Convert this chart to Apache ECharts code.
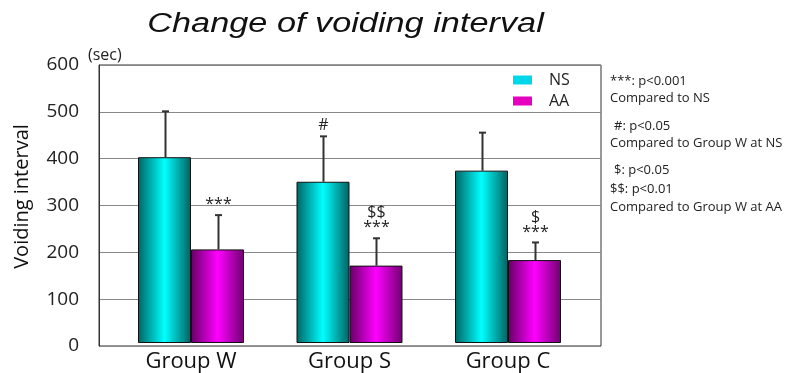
<!DOCTYPE html>
<html><head><meta charset="utf-8">
<script src="https://cdn.jsdelivr.net/npm/echarts@6/dist/echarts.min.js"></script>
<style>html,body{margin:0;padding:0;background:#fff}#c{width:785px;height:373px}</style>
</head><body><div id="c"></div>
<script>
const categories = ['Group W', 'Group S', 'Group C'];
const nsMean = [401, 348, 372];
const nsErr = [99, 98, 82];
const aaMean = [202, 167, 179];
const aaErr = [74, 59, 38];
const nsMarks = ['', '#', ''];
const aaMarks = ['***', '$$\n***', '$\n***'];
const yTicks = [0, 100, 200, 300, 400, 500, 600];
const notes = [
  ['***: p<0.001', 610, 81],
  ['Compared to NS', 610, 98],
  ['#: p<0.05', 614, 126],
  ['Compared to Group W at NS', 610, 143],
  ['$: p<0.05', 614, 170],
  ['$$: p<0.01', 610, 189],
  ['Compared to Group W at AA', 610, 207]
];

const chart = echarts.init(document.getElementById('c'));
const F = '"Open Sans", "Noto Sans", sans-serif';

function grad(dark, bright, dark2) {
  return new echarts.graphic.LinearGradient(0, 0, 1, 0, [
    {offset: 0, color: dark}, {offset: 0.5, color: bright}, {offset: 1, color: dark2}
  ]);
}
const nsFill = grad('#006464', '#00ffff', '#006060');
const aaFill = grad('#650065', '#ff00ff', '#700070');

function errSeries(name, seriesIdx, means, errs, marks) {
  return {
    type: 'custom', name: name + '_err', xAxisIndex: 1, yAxisIndex: 1, z: 5,
    data: means.map((m, i) => [i, m, m + errs[i], marks[i]]),
    renderItem: function (params, api) {
      const i = api.value(0);
      const base = api.coord([i, api.value(1)]);
      const top = api.coord([i, api.value(2)]);
      const bw = 53;
      const off = seriesIdx === 0 ? -bw / 2 : bw / 2;
      const x = Math.round(base[0] + off) + 0.5;
      const mark = api.value(3);
      const children = [
        {type: 'line', shape: {x1: x, y1: base[1], x2: x, y2: top[1]}, style: {stroke: '#333', lineWidth: 2}},
        {type: 'line', shape: {x1: x - 3.5, y1: top[1], x2: x + 3.5, y2: top[1]}, style: {stroke: '#333', lineWidth: 2}}
      ];
      if (mark) {
        children.push({type: 'text', style: {text: mark, x: x, y: top[1] - 3, align: 'center', verticalAlign: 'bottom', font: '16px ' + F, fill: '#222', lineHeight: 15}});
      }
      return {type: 'group', children: children};
    }
  };
}

chart.setOption({
  animation: false,
  legend: {
    left: 513, top: 72, padding: 0, orient: 'vertical', itemWidth: 19, itemHeight: 9, itemGap: 5, icon: 'rect',
    textStyle: {fontFamily: F, fontSize: 16, color: '#222', padding: [0, 0, 0, 12]},
    data: [{name: 'NS', itemStyle: {color: '#00d8ea', borderWidth: 0}}, {name: 'AA', itemStyle: {color: '#e600c0', borderWidth: 0}}]
  },
  grid: [
    {left: 99, right: 184, top: 65, bottom: 27, show: true, borderColor: '#333', borderWidth: 1},
    {left: 111.75, right: 197.75, top: 65, bottom: 27}
  ],
  xAxis: [
    {type: 'category', gridIndex: 0, data: ['', '', ''], axisLine: {show: false}, axisTick: {show: false}, axisLabel: {show: false}},
    {type: 'category', gridIndex: 1, data: categories, axisLine: {show: false}, axisTick: {show: false},
      axisLabel: {fontFamily: F, fontSize: 22, color: '#111', margin: 8}}
  ],
  yAxis: [
    {type: 'value', gridIndex: 0, min: 0, max: 600, interval: 100,
      name: 'Voiding interval', nameLocation: 'middle', nameGap: 67, nameRotate: 90,
      nameTextStyle: {fontFamily: F, fontSize: 20, color: '#111', padding: [0, 0, 0, 18]},
      axisLine: {show: true, lineStyle: {color: '#333'}}, axisTick: {show: false},
      axisLabel: {fontFamily: F, fontSize: 19, color: '#222', margin: 20,
        formatter: v => yTicks.includes(v) ? String(v) : ''},
      splitLine: {show: true, lineStyle: {color: '#888', width: 1}}},
    {type: 'value', gridIndex: 1, min: 0, max: 600, interval: 100, show: false, splitLine: {show: false}}
  ],
  graphic: [
    {type: 'text', x: 345.5, y: 24, scaleX: 1.27, style: {text: 'Change of voiding interval', align: 'center', verticalAlign: 'middle',
      font: 'italic 27px "Liberation Sans", Arial, sans-serif', fill: '#111'}},
    {type: 'text', x: 88, y: 55, style: {text: '(sec)', font: '16px ' + F, fill: '#222', verticalAlign: 'middle'}}
  ].concat(notes.map(n => ({type: 'text', x: n[1], y: n[2], style: {text: n[0], font: '13px ' + F, fill: '#222', verticalAlign: 'middle'}}))),
  series: [
    {type: 'bar', name: 'NS', xAxisIndex: 1, yAxisIndex: 1, data: nsMean, barWidth: 53, barGap: '0%',
      itemStyle: {color: nsFill, borderColor: '#111', borderWidth: 1}},
    {type: 'bar', name: 'AA', xAxisIndex: 1, yAxisIndex: 1, data: aaMean, barWidth: 53, barGap: '0%',
      itemStyle: {color: aaFill, borderColor: '#111', borderWidth: 1}},
    errSeries('NS', 0, nsMean, nsErr, nsMarks),
    errSeries('AA', 1, aaMean, aaErr, aaMarks)
  ]
});
</script></body></html>
